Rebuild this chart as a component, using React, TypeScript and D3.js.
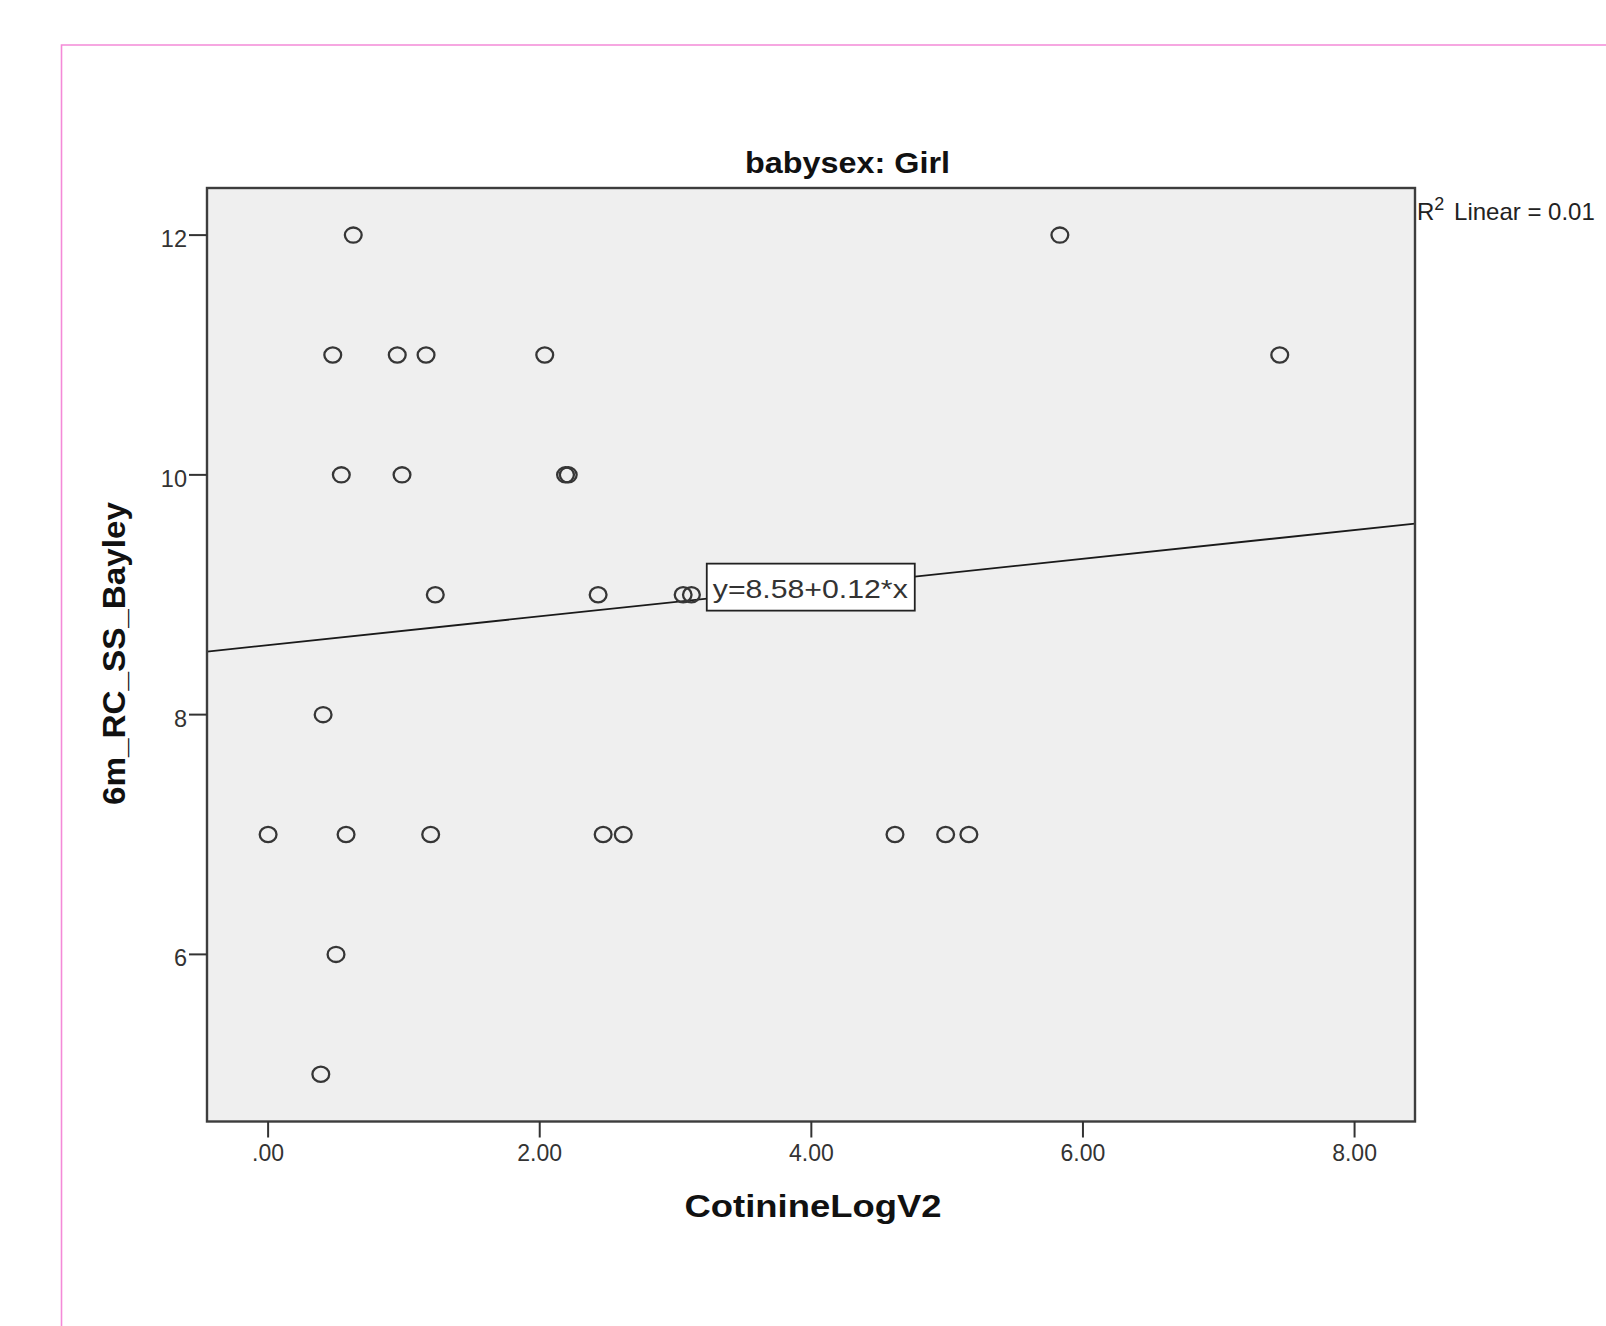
import React from "react"
import { scaleLinear } from "d3"

// babysex: Girl — CotinineLogV2 vs 6m_RC_SS_Bayley
const cotinine = [
  0.627, 5.83,
  0.476, 0.951, 1.163, 2.037, 7.449,
  0.539, 0.986, 2.19, 2.21,
  1.231, 2.43, 3.056, 3.117,
  0.405,
  0.0, 0.574, 1.197, 2.467, 2.615, 4.616, 4.989, 5.16,
  0.5,
  0.388,
]
const bayley = [
  12, 12,
  11, 11, 11, 11, 11,
  10, 10, 10, 10,
  9, 9, 9, 9,
  8,
  7, 7, 7, 7, 7, 7, 7, 7,
  6,
  5,
]
const xTicks = [0, 2, 4, 6, 8]
const xTickLabels = [".00", "2.00", "4.00", "6.00", "8.00"]
const yTicks = [6, 8, 10, 12]
const intercept = 8.58
const slope = 0.12
const rSquaredText = "0.01"

const font = "'Liberation Sans', Arial, sans-serif"

export default function App() {
  const left = 207, right = 1415, top = 188, bottom = 1121.5
  const xMin = -0.45, xMax = 8.445
  const yMin = 4.606, yMax = 12.393

  const x = scaleLinear().domain([xMin, xMax]).range([left, right])
  const y = scaleLinear().domain([yMin, yMax]).range([bottom, top])

  const fit = (v: number) => intercept + slope * v
  const labelAt = 3.23
  const boxX = x(labelAt)
  const boxY = y(fit(labelAt)) - 35

  return (
    <div style={{ position: "absolute", left: 0, top: 0, width: 1606, height: 1326, overflow: "hidden" }}>
      <svg width={1606} height={1326} style={{ display: "block", background: "#fff" }}>
        {/* pink outer frame */}
        <path d="M1610,45 H61.5 V1330" fill="none" stroke="#f48ad8" strokeWidth={1.6} />

        {/* title */}
        <text x={847.5} y={173} textAnchor="middle" fontFamily={font} fontWeight="bold" fontSize={30}
          textLength={205} lengthAdjust="spacingAndGlyphs" fill="#111">babysex: Girl</text>

        {/* plot area */}
        <rect x={left} y={top} width={right - left} height={bottom - top} fill="#efefef" />

        {/* regression line */}
        <line x1={x(xMin)} y1={y(fit(xMin))} x2={x(xMax)} y2={y(fit(xMax))} stroke="#1a1a1a" strokeWidth={1.8} />

        {/* points */}
        <g>
          {cotinine.map((c, i) => (
            <ellipse key={i} cx={x(c)} cy={y(bayley[i])} rx={8.4} ry={7.6}
              fill="none" stroke="#363636" strokeWidth={2.3} />
          ))}
        </g>

        {/* fit equation label */}
        <rect x={boxX} y={boxY} width={208} height={47} fill="#fff" stroke="#222" strokeWidth={1.8} />
        <text x={boxX + 6} y={boxY + 34} fontFamily={font} fontSize={26} fill="#333"
          textLength={195} lengthAdjust="spacingAndGlyphs">
          y={intercept.toFixed(2)}+{slope.toFixed(2)}*x
        </text>

        {/* frame */}
        <rect x={left} y={top} width={right - left} height={bottom - top} fill="none" stroke="#3d3d3d" strokeWidth={2.4} />

        {/* y axis ticks */}
        {yTicks.map(t => (
          <g key={t}>
            <line x1={189} x2={left} y1={y(t)} y2={y(t)} stroke="#333" strokeWidth={2} />
            <text x={187} y={y(t) + 12} textAnchor="end" fontFamily={font} fontSize={23.5} fill="#333">{t}</text>
          </g>
        ))}

        {/* x axis ticks */}
        {xTicks.map((t, i) => (
          <g key={t}>
            <line x1={x(t)} x2={x(t)} y1={bottom} y2={1137.5} stroke="#333" strokeWidth={2} />
            <text x={x(t)} y={1161} textAnchor="middle" fontFamily={font} fontSize={23} fill="#333">{xTickLabels[i]}</text>
          </g>
        ))}

        {/* axis titles */}
        <text x={813} y={1217} textAnchor="middle" fontFamily={font} fontWeight="bold" fontSize={31}
          textLength={257} lengthAdjust="spacingAndGlyphs" fill="#111">CotinineLogV2</text>
        <text transform="translate(125,653.5) rotate(-90)" textAnchor="middle" fontFamily={font} fontWeight="bold"
          fontSize={31} textLength={303} lengthAdjust="spacingAndGlyphs" fill="#111">6m_RC_SS_Bayley</text>

        {/* R squared */}
        <text x={1417} y={220} fontFamily={font} fontSize={24} fill="#222">
          R<tspan dy={-10} fontSize={18}>2</tspan><tspan dy={10} dx={3}> Linear = {rSquaredText}</tspan>
        </text>
      </svg>
    </div>
  )
}
